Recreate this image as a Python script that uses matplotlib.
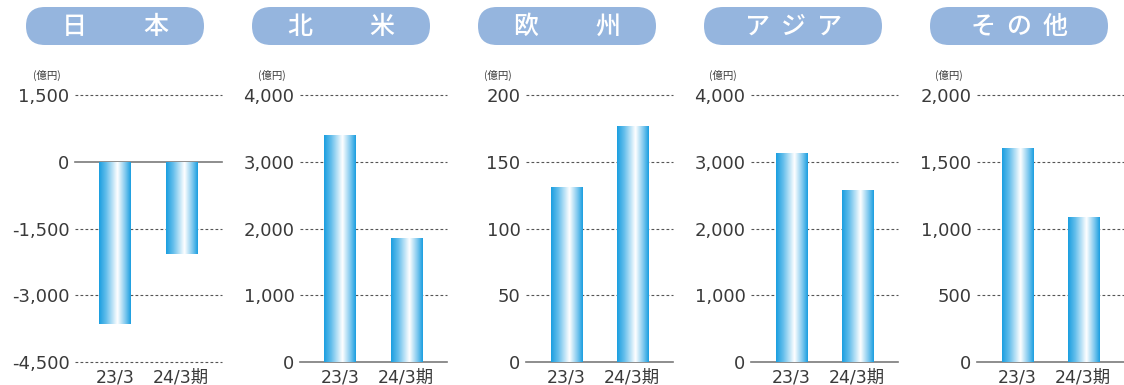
import matplotlib
matplotlib.use("Agg")
import matplotlib.pyplot as plt
import numpy as np
from matplotlib.colors import LinearSegmentedColormap
from matplotlib.patches import FancyBboxPatch

plt.rcParams['font.family'] = ['Noto Sans CJK JP', 'DejaVu Sans']

categories = ["23/3", "24/3期"]
regions = ["日本", "北米", "欧州", "アジア", "その他"]
title_chars = [["日", "本"], ["北", "米"], ["欧", "州"], ["ア", "ジ", "ア"], ["そ", "の", "他"]]
values_japan = [-3650, -2080]
values_na = [3400, 1860]
values_eu = [131, 177]
values_asia = [3130, 2580]
values_other = [1600, 1085]
all_values = [values_japan, values_na, values_eu, values_asia, values_other]
yticks = [
    [1500, 0, -1500, -3000, -4500],
    [4000, 3000, 2000, 1000, 0],
    [200, 150, 100, 50, 0],
    [4000, 3000, 2000, 1000, 0],
    [2000, 1500, 1000, 500, 0],
]

W, H = 1124, 385
fig = plt.figure(figsize=(W / 100, H / 100), dpi=100)
fig.patch.set_facecolor("white")

# overlay axes in pixel coordinates for title pills
ov = fig.add_axes([0, 0, 1, 1], zorder=0)
ov.set_xlim(0, W)
ov.set_ylim(H, 0)
ov.axis("off")
ov.patch.set_alpha(0)

cmap = LinearSegmentedColormap.from_list(
    "barg", [(0.0, "#1a9ee0"), (0.22, "#62bdeb"), (0.58, "#ffffff"), (0.82, "#82caef"), (1.0, "#1a9ee0")])
grad = np.linspace(0, 1, 256).reshape(1, -1)

axis_lefts = [75, 300, 526, 751, 977]
pill_lefts = [26, 252, 478, 704, 930]
ax_w = 147
top_px, bot_px = 95, 362
txt_color = "#3a3a3a"

for i in range(5):
    pl = pill_lefts[i]
    pw, ph = 178, 38
    pill = FancyBboxPatch((pl, 7), pw, ph, boxstyle="round,pad=0,rounding_size=19",
                          facecolor="#95b5de", edgecolor="none")
    ov.add_patch(pill)
    chars = title_chars[i]
    cx = pl + pw / 2
    offs = [-41, 41] if len(chars) == 2 else [-36, 0, 36]
    for ch, o in zip(chars, offs):
        ov.text(cx + o, 27, ch, fontsize=18, color="white", fontweight="medium",
                ha="center", va="center")
    ov.text(axis_lefts[i] - 42, 75, "(億円)", fontsize=7.5, color=txt_color,
            ha="left", va="center")

    ax = fig.add_axes([axis_lefts[i] / W, (H - bot_px) / H, ax_w / W, (bot_px - top_px) / H], zorder=1)
    ax.patch.set_alpha(0)
    ticks = yticks[i]
    ymin, ymax = min(ticks), max(ticks)
    for s in ax.spines.values():
        s.set_visible(False)
    for t in ticks:
        if t == 0:
            ax.axhline(t, color="#7a7a7a", lw=1.2, zorder=1, clip_on=False)
        else:
            ax.axhline(t, color="#555555", lw=0.8, ls=(0, (2.5, 2)), zorder=1, clip_on=False)
    x = np.arange(len(categories))
    bars = ax.bar(x, all_values[i], width=0.47, color="none", zorder=2)
    for b in bars:
        x0, y0 = b.get_x(), b.get_y()
        x1, y1 = x0 + b.get_width(), y0 + b.get_height()
        im = ax.imshow(grad, cmap=cmap, aspect="auto", extent=[x0, x1, min(y0, y1), max(y0, y1)],
                       zorder=2, interpolation="bilinear")
        im.set_clip_path(b)
    ax.set_xlim(-0.606, 1.62)
    ax.set_ylim(ymin, ymax)
    ax.set_yticks(ticks)
    ax.set_yticklabels([f"{t:,}" for t in ticks], fontsize=13, color=txt_color,
                       family=["DejaVu Sans"])
    ax.tick_params(axis="y", length=0, pad=4)
    ax.set_xticks(x)
    ax.set_xticklabels(categories, fontsize=12.5, color=txt_color)
    ax.tick_params(axis="x", length=0, pad=5)
    for lbl in ax.get_xticklabels():
        lbl.set_family(["DejaVu Sans", "Noto Sans CJK JP"])

fig.savefig("out.png", dpi=100, facecolor="white")
